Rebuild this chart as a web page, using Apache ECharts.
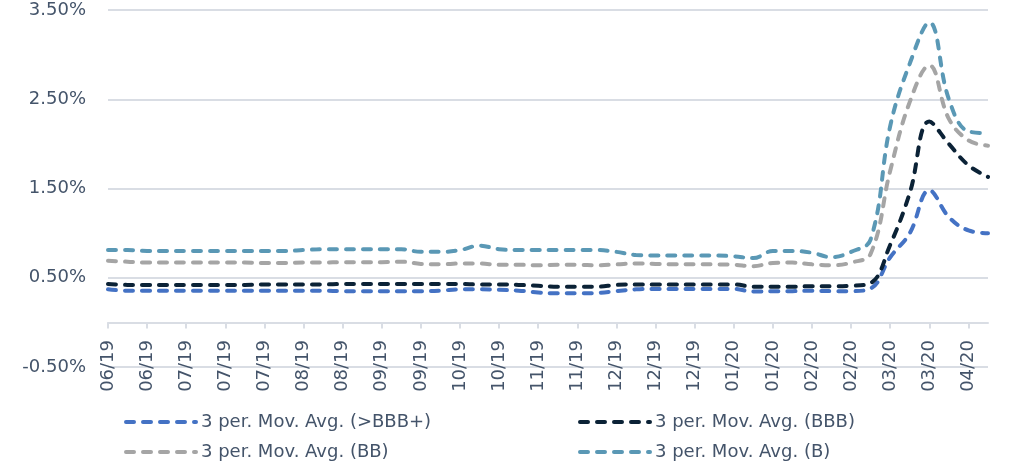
<!DOCTYPE html>
<html>
<head>
<meta charset="utf-8">
<script src="https://cdn.jsdelivr.net/npm/echarts@6/dist/echarts.min.js"></script>
<style>
html,body{margin:0;padding:0;background:#fff;}
#chart{width:1010px;height:465px;}
</style>
</head>
<body>
<div id="chart"></div>
<script>
// Weekly observations (month/year of each week), June 2019 - April 2020
const categories = [
  '06/19','06/19','06/19','06/19','07/19','07/19','07/19','07/19','07/19',
  '08/19','08/19','08/19','08/19','09/19','09/19','09/19','09/19','09/19',
  '10/19','10/19','10/19','10/19','11/19','11/19','11/19','11/19',
  '12/19','12/19','12/19','12/19','12/19','01/20','01/20','01/20','01/20',
  '02/20','02/20','02/20','02/20','03/20','03/20','03/20','03/20','03/20',
  '04/20','04/20'
];
// values in percent
const seriesNames = [
  '3 per. Mov. Avg. (>BBB+)',
  '3 per. Mov. Avg. (BBB)',
  '3 per. Mov. Avg. (BB)',
  '3 per. Mov. Avg. (B)'
];
const aboveBBBplus = [
  0.37,0.355,0.355,0.355,0.355,0.355,0.355,0.355,0.355,0.355,0.355,0.355,
  0.35,0.35,0.35,0.35,0.35,0.355,0.37,0.37,0.365,0.355,0.335,0.325,
  0.325,0.33,0.35,0.37,0.375,0.375,0.375,0.375,0.375,0.345,0.35,0.35,
  0.355,0.35,0.35,0.38,0.73,1.00,1.48,1.18,1.03,1.00
];
const bbb = [
  0.43,0.42,0.42,0.42,0.42,0.42,0.42,0.42,0.425,0.425,0.425,0.425,
  0.43,0.43,0.43,0.43,0.43,0.43,0.43,0.425,0.425,0.42,0.41,0.40,
  0.40,0.40,0.42,0.425,0.425,0.425,0.425,0.425,0.425,0.40,0.40,0.40,
  0.405,0.405,0.41,0.44,0.87,1.45,2.25,2.00,1.76,1.63
];
const bb = [
  0.69,0.68,0.67,0.67,0.67,0.67,0.67,0.67,0.665,0.665,0.67,0.67,
  0.675,0.675,0.675,0.68,0.655,0.65,0.66,0.66,0.645,0.645,0.64,0.645,
  0.645,0.64,0.65,0.66,0.655,0.65,0.65,0.65,0.645,0.63,0.665,0.67,
  0.65,0.64,0.67,0.77,1.70,2.47,2.88,2.28,2.04,1.98
];
const b = [
  0.81,0.81,0.80,0.80,0.80,0.80,0.80,0.80,0.80,0.80,0.81,0.82,
  0.82,0.82,0.82,0.82,0.79,0.79,0.81,0.86,0.82,0.81,0.81,0.81,
  0.81,0.81,0.79,0.755,0.75,0.75,0.75,0.75,0.74,0.72,0.80,0.80,
  0.78,0.73,0.79,0.93,2.20,2.90,3.36,2.50,2.14,2.12
];
const yTicks = { min: -0.5, max: 3.5, interval: 1 };

const colors = ['#4472C4', '#0B2236', '#A5A5A5', '#5A98B5'];
const textColor = '#44546A';
const gridColor = '#D9DDE4';
const font = 'DejaVu Sans';
const values = [aboveBBBplus, bbb, bb, b];

const chart = echarts.init(document.getElementById('chart'), null, {renderer: 'canvas'});

function legendAt(left, names) {
  return {
    left: left,
    top: 413,
    orient: 'vertical',
    padding: 0,
    itemGap: 12,
    itemWidth: 70,
    itemHeight: 18,
    textStyle: { color: textColor, fontSize: 18, fontFamily: font },
    itemStyle: { opacity: 0 },
    lineStyle: { width: 4, type: [8, 9], cap: 'round' },
    data: names
  };
}

chart.setOption({
  animation: false,
  backgroundColor: '#ffffff',
  color: colors,
  grid: { left: 108, right: 22, top: 10, bottom: 98, containLabel: false },
  legend: [
    legendAt(124, [seriesNames[0], seriesNames[2]]),
    legendAt(578, [seriesNames[1], seriesNames[3]])
  ],
  xAxis: {
    type: 'category',
    data: categories,
    boundaryGap: false,
    axisLine: { onZero: true, lineStyle: { color: gridColor, width: 2 } },
    axisTick: { show: true, interval: 1, length: 6, lineStyle: { color: gridColor, width: 2 } },
    axisLabel: {
      interval: 1, rotate: 90, margin: -27,
      color: textColor, fontSize: 18, fontFamily: font
    },
    splitLine: { show: false }
  },
  yAxis: {
    type: 'value',
    min: yTicks.min, max: yTicks.max, interval: yTicks.interval,
    axisLine: { show: false },
    axisTick: { show: false },
    axisLabel: {
      margin: 22, color: textColor, fontSize: 18, fontFamily: font,
      formatter: v => v.toFixed(2) + '%'
    },
    splitLine: { lineStyle: { color: gridColor, width: 2 } }
  },
  series: values.map((arr, i) => ({
    name: seriesNames[i],
    type: 'line',
    data: arr,
    symbol: 'none',
    smooth: 0.4,
    lineStyle: { width: 4, type: [8, 9], cap: 'round', color: colors[i] }
  }))
});
</script>
</body>
</html>
